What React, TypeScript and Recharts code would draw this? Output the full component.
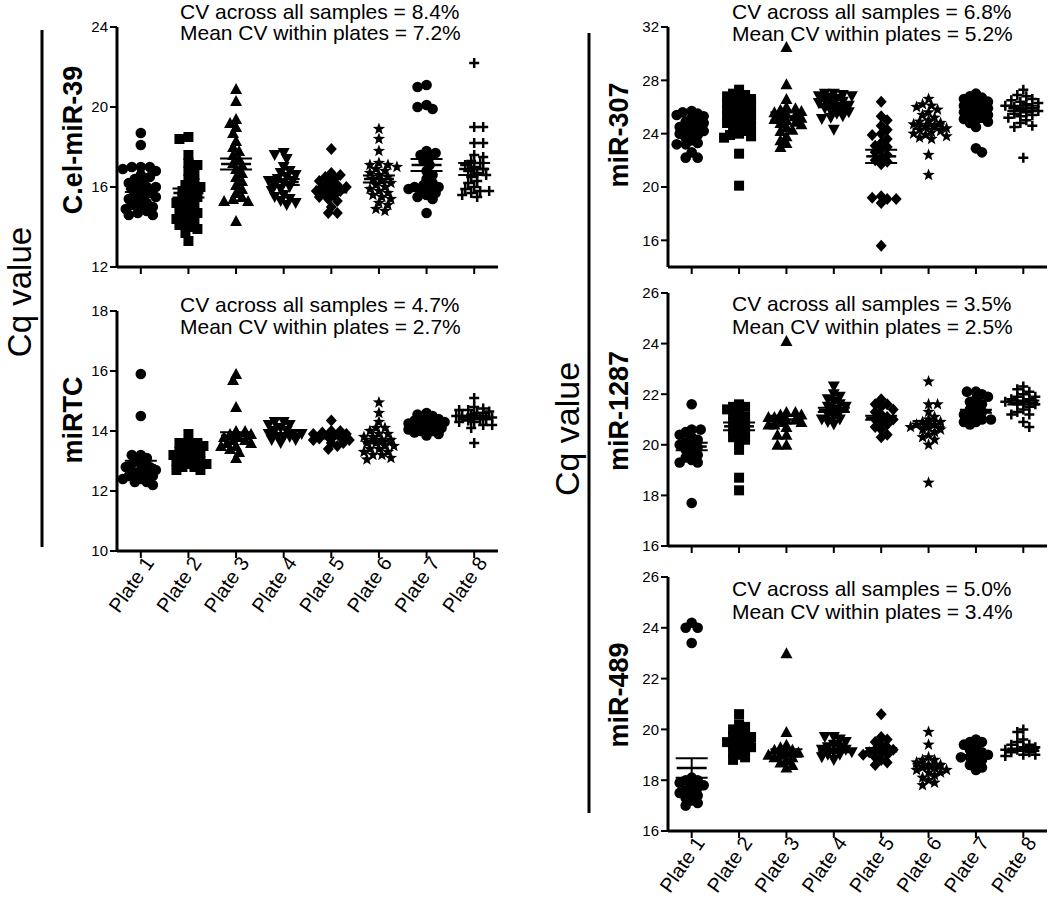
import React from "react";
import { ScatterChart, Scatter, XAxis, YAxis, ErrorBar } from "recharts";

const FONT = "'Liberation Sans', Arial, Helvetica, sans-serif";

const plateLabels = ["Plate 1", "Plate 2", "Plate 3", "Plate 4", "Plate 5", "Plate 6", "Plate 7", "Plate 8"];
const markerKinds = ["circle", "square", "triangle", "triangleDown", "diamond", "star", "circle", "plus"];

// C.el-miR-39 Cq values, one list per plate
const celMir39 = [
  [18.7, 18.1, 17.0, 17.0, 17.0, 16.9, 16.8, 16.6, 16.5, 16.4, 16.3, 16.2, 16.1, 16.0, 16.0, 15.9, 15.8, 15.7, 15.6, 15.5, 15.5, 15.4, 15.3, 15.2, 15.1, 15.0, 15.0, 14.9, 14.8, 14.7, 14.6, 14.6],
  [18.5, 18.4, 17.6, 17.2, 17.1, 16.8, 16.6, 16.4, 16.2, 16.1, 16.0, 15.9, 15.8, 15.6, 15.5, 15.4, 15.3, 15.2, 15.1, 15.0, 14.9, 14.8, 14.7, 14.6, 14.5, 14.4, 14.3, 14.2, 14.1, 14.0, 13.9, 13.7, 13.3],
  [20.9, 20.3, 19.4, 19.2, 19.0, 18.7, 18.3, 18.0, 17.8, 17.6, 17.4, 17.2, 17.1, 16.9, 16.7, 16.5, 16.3, 16.1, 15.9, 15.7, 15.5, 15.4, 15.3, 15.3, 14.3],
  [17.7, 17.6, 17.4, 17.0, 16.8, 16.7, 16.6, 16.5, 16.4, 16.3, 16.3, 16.2, 16.1, 16.0, 15.9, 15.8, 15.6, 15.5, 15.4, 15.3, 15.2, 15.1],
  [17.9, 16.7, 16.6, 16.5, 16.4, 16.3, 16.2, 16.1, 16.0, 16.0, 15.9, 15.8, 15.8, 15.7, 15.6, 15.5, 15.4, 15.3, 15.0, 14.7, 14.7],
  [18.9, 18.4, 17.8, 17.2, 17.1, 17.1, 17.0, 16.9, 16.8, 16.7, 16.6, 16.5, 16.4, 16.3, 16.2, 16.1, 16.0, 15.9, 15.8, 15.7, 15.6, 15.5, 15.4, 15.2, 15.1, 14.9, 14.8],
  [21.1, 21.0, 20.1, 20.0, 19.9, 17.8, 17.7, 17.6, 17.5, 17.3, 17.1, 16.8, 16.6, 16.4, 16.2, 16.1, 16.0, 16.0, 15.9, 15.9, 15.8, 15.7, 15.6, 15.5, 15.4, 14.7],
  [22.2, 19.0, 19.0, 18.2, 18.2, 17.6, 17.5, 17.3, 17.2, 17.1, 17.0, 16.9, 16.8, 16.7, 16.6, 16.5, 16.3, 16.2, 16.0, 15.9, 15.8, 15.8, 15.7, 15.6, 15.5],
];
const celMir39Means = [15.9, 15.7, 17.15, 16.25, 15.87, 16.4, 17.1, 16.9];
const celMir39Sems = [0.15, 0.22, 0.28, 0.15, 0.14, 0.18, 0.3, 0.3];

// miRTC
const miRTC = [
  [15.9, 14.5, 13.2, 13.2, 13.1, 13.0, 12.9, 12.9, 12.8, 12.8, 12.7, 12.7, 12.6, 12.6, 12.5, 12.5, 12.4, 12.4, 12.3, 12.3, 12.2],
  [13.9, 13.6, 13.6, 13.6, 13.5, 13.4, 13.4, 13.3, 13.3, 13.2, 13.2, 13.1, 13.1, 13.0, 13.0, 12.9, 12.9, 12.8, 12.8, 12.7, 12.7],
  [15.9, 15.7, 14.8, 14.0, 14.0, 13.9, 13.9, 13.8, 13.8, 13.7, 13.7, 13.6, 13.6, 13.5, 13.5, 13.4, 13.3, 13.1],
  [14.3, 14.3, 14.2, 14.2, 14.1, 14.0, 14.0, 13.9, 13.9, 13.9, 13.8, 13.8, 13.8, 13.7, 13.7, 13.6],
  [14.35, 14.0, 14.0, 13.95, 13.9, 13.9, 13.85, 13.8, 13.8, 13.75, 13.7, 13.7, 13.6, 13.6, 13.5, 13.4],
  [14.95, 14.6, 14.3, 14.1, 14.1, 14.0, 13.9, 13.9, 13.8, 13.8, 13.7, 13.7, 13.6, 13.6, 13.5, 13.5, 13.4, 13.4, 13.3, 13.3, 13.2, 13.2, 13.1, 13.05],
  [14.6, 14.55, 14.5, 14.4, 14.4, 14.35, 14.3, 14.3, 14.25, 14.2, 14.2, 14.15, 14.1, 14.1, 14.05, 14.0, 14.0, 13.95, 13.9, 13.85],
  [15.1, 14.8, 14.75, 14.7, 14.7, 14.65, 14.6, 14.6, 14.55, 14.5, 14.5, 14.45, 14.4, 14.4, 14.35, 14.3, 14.3, 14.2, 14.2, 14.1, 13.6],
];
const miRTCMeans = [12.86, 13.2, 13.84, 13.87, 13.8, 13.66, 14.2, 14.45];
const miRTCSems = [0.15, 0.06, 0.12, 0.05, 0.05, 0.08, 0.05, 0.06];

// miR-307
const miR307 = [
  [25.7, 25.6, 25.5, 25.4, 25.3, 25.2, 25.0, 24.9, 24.8, 24.6, 24.5, 24.4, 24.3, 24.2, 24.1, 24.0, 23.9, 23.7, 23.5, 23.3, 23.2, 23.2, 22.6, 22.2, 22.2],
  [27.3, 27.0, 26.9, 26.8, 26.7, 26.6, 26.5, 26.4, 26.3, 26.2, 26.1, 26.0, 25.9, 25.8, 25.7, 25.6, 25.5, 25.4, 25.3, 25.2, 25.1, 25.0, 24.9, 24.8, 24.6, 24.5, 24.4, 24.2, 24.0, 23.9, 23.8, 23.7, 22.5, 20.1],
  [30.5, 27.7, 26.6, 26.0, 25.9, 25.8, 25.7, 25.6, 25.5, 25.4, 25.3, 25.2, 25.1, 25.0, 24.9, 24.8, 24.7, 24.5, 24.3, 24.2, 23.8, 23.5, 23.3, 23.0],
  [27.0, 27.0, 26.9, 26.8, 26.8, 26.7, 26.6, 26.5, 26.4, 26.3, 26.2, 26.1, 26.0, 25.9, 25.8, 25.7, 25.6, 25.5, 25.3, 25.2, 25.1, 24.3],
  [26.4, 25.3, 25.0, 24.6, 24.3, 24.0, 23.9, 23.6, 23.3, 23.1, 23.0, 22.8, 22.6, 22.4, 22.2, 22.0, 21.9, 21.7, 19.3, 19.2, 19.1, 19.1, 18.8, 15.6],
  [26.6, 26.2, 26.1, 26.0, 25.8, 25.6, 25.4, 25.2, 25.0, 24.9, 24.8, 24.7, 24.6, 24.5, 24.4, 24.3, 24.2, 24.1, 24.0, 23.9, 23.8, 23.7, 23.6, 22.4, 20.9],
  [27.0, 26.8, 26.7, 26.6, 26.5, 26.4, 26.3, 26.2, 26.1, 26.0, 25.9, 25.8, 25.7, 25.6, 25.5, 25.4, 25.3, 25.2, 25.1, 25.0, 24.9, 24.8, 24.5, 22.9, 22.6],
  [27.3, 26.9, 26.8, 26.6, 26.5, 26.4, 26.3, 26.2, 26.1, 26.0, 25.9, 25.8, 25.7, 25.6, 25.5, 25.4, 25.3, 25.2, 25.0, 24.8, 24.6, 24.5, 22.2],
];
const miR307Means = [24.4, 25.2, 25.3, 26.1, 22.3, 24.55, 25.7, 25.9];
const miR307Sems = [0.2, 0.25, 0.3, 0.12, 0.5, 0.2, 0.2, 0.2];

// miR-1287
const miR1287 = [
  [21.6, 20.6, 20.6, 20.5, 20.4, 20.3, 20.2, 20.1, 20.0, 20.0, 19.9, 19.8, 19.7, 19.6, 19.5, 19.4, 19.3, 19.3, 17.7],
  [21.6, 21.5, 21.5, 21.4, 21.3, 21.2, 21.1, 21.0, 20.9, 20.8, 20.7, 20.6, 20.5, 20.4, 20.3, 20.2, 20.1, 19.8, 18.7, 18.2],
  [24.1, 21.3, 21.3, 21.2, 21.2, 21.1, 21.1, 21.0, 21.0, 20.9, 20.9, 20.8, 20.8, 20.7, 20.4, 20.4, 20.0, 20.0],
  [22.3, 22.0, 21.9, 21.8, 21.7, 21.6, 21.5, 21.5, 21.4, 21.3, 21.2, 21.1, 21.0, 21.0, 20.9, 20.8],
  [21.8, 21.6, 21.6, 21.5, 21.4, 21.3, 21.2, 21.1, 21.0, 21.0, 20.9, 20.8, 20.7, 20.6, 20.4, 20.3],
  [22.5, 21.6, 21.6, 21.3, 21.1, 21.0, 20.9, 20.9, 20.8, 20.8, 20.7, 20.7, 20.6, 20.6, 20.5, 20.4, 20.3, 20.2, 20.0, 18.5],
  [22.1, 22.1, 22.0, 21.9, 21.8, 21.7, 21.6, 21.5, 21.4, 21.3, 21.2, 21.2, 21.1, 21.0, 21.0, 20.9, 20.9, 20.8],
  [22.3, 22.2, 22.1, 22.0, 21.9, 21.9, 21.8, 21.8, 21.7, 21.7, 21.6, 21.6, 21.5, 21.4, 21.3, 21.2, 21.2, 20.9, 20.7],
];
const miR1287Means = [19.93, 20.73, 21.0, 21.38, 21.07, 20.82, 21.33, 21.67];
const miR1287Sems = [0.15, 0.15, 0.15, 0.08, 0.08, 0.12, 0.06, 0.08];

// miR-489
const miR489 = [
  [24.2, 24.0, 24.0, 23.4, 18.1, 18.0, 18.0, 17.9, 17.8, 17.8, 17.7, 17.6, 17.5, 17.5, 17.4, 17.3, 17.2, 17.1, 17.0],
  [20.6, 20.2, 20.1, 20.0, 19.9, 19.8, 19.7, 19.7, 19.6, 19.5, 19.5, 19.4, 19.3, 19.3, 19.2, 19.1, 19.0, 18.9, 18.8],
  [23.0, 19.9, 19.4, 19.3, 19.2, 19.2, 19.1, 19.1, 19.0, 19.0, 18.9, 18.9, 18.8, 18.7, 18.6, 18.5],
  [19.7, 19.7, 19.6, 19.5, 19.4, 19.3, 19.3, 19.2, 19.2, 19.1, 19.1, 19.0, 19.0, 18.9, 18.8],
  [20.6, 19.7, 19.6, 19.5, 19.4, 19.3, 19.2, 19.2, 19.1, 19.1, 19.0, 19.0, 18.9, 18.8, 18.7, 18.6],
  [19.9, 19.4, 18.9, 18.8, 18.8, 18.7, 18.6, 18.6, 18.5, 18.5, 18.4, 18.4, 18.3, 18.3, 18.2, 18.1, 18.0, 17.9, 17.8],
  [19.6, 19.5, 19.5, 19.4, 19.3, 19.2, 19.1, 19.0, 19.0, 18.9, 18.9, 18.8, 18.7, 18.6, 18.5, 18.4],
  [20.0, 19.9, 19.6, 19.5, 19.4, 19.4, 19.3, 19.3, 19.2, 19.2, 19.1, 19.1, 19.0, 19.0, 18.95],
];
const miR489Means = [18.48, 19.5, 19.07, 19.15, 19.2, 18.55, 18.93, 19.2];
const miR489Sems = [0.38, 0.08, 0.15, 0.05, 0.07, 0.1, 0.06, 0.05];

const Y_AXIS_W = 50;
const M_TOP = 10;
const M_RIGHT = 4;

// spread points of one plate sideways (kept within about +-19 px of the tick)
function swarm(values: number[], plate: number, pxPerY: number, pxPerX: number) {
  const placed: { dx: number; py: number }[] = [];
  const out: { x: number; y: number }[] = [];
  const sorted = [...values].sort((a, b) => b - a);
  const step = 3;
  const minDist = 6.5;
  const maxOff = 19;
  sorted.forEach((v, i) => {
    const py = v * pxPerY;
    const dir = i % 2 === 0 ? 1 : -1;
    let best = 0;
    let bestGap = -1;
    for (let k = 0; ; k++) {
      const cand = k === 0 ? 0 : (k % 2 === 1 ? dir : -dir) * Math.ceil(k / 2) * step;
      if (Math.abs(cand) > maxOff) break;
      const gap = placed.length ? Math.min(...placed.map((p) => Math.hypot(p.dx - cand, p.py - py))) : 99;
      if (gap >= minDist) {
        best = cand;
        bestGap = gap;
        break;
      }
      if (gap > bestGap) {
        bestGap = gap;
        best = cand;
      }
    }
    placed.push({ dx: best, py });
    out.push({ x: plate + best / pxPerX, y: v });
  });
  return out;
}

function starPath(cx: number, cy: number, R: number, r: number) {
  let d = "";
  for (let i = 0; i < 10; i++) {
    const rad = i % 2 === 0 ? R : r;
    const a = -Math.PI / 2 + (i * Math.PI) / 5;
    d += (i === 0 ? "M" : "L") + (cx + rad * Math.cos(a)).toFixed(2) + "," + (cy + rad * Math.sin(a)).toFixed(2);
  }
  return d + "Z";
}

function Marker({ cx, cy, kind }: { cx: number; cy: number; kind: string }) {
  if (cx == null || cy == null) return null;
  switch (kind) {
    case "circle":
      return <circle cx={cx} cy={cy} r={5.3} fill="#000" />;
    case "square":
      return <rect x={cx - 5} y={cy - 5} width={10} height={10} fill="#000" />;
    case "triangle":
      return <path d={`M${cx},${cy - 6}L${cx + 6},${cy + 5}L${cx - 6},${cy + 5}Z`} fill="#000" />;
    case "triangleDown":
      return <path d={`M${cx},${cy + 6}L${cx + 6},${cy - 5}L${cx - 6},${cy - 5}Z`} fill="#000" />;
    case "diamond":
      return <path d={`M${cx},${cy - 6}L${cx + 5.5},${cy}L${cx},${cy + 6}L${cx - 5.5},${cy}Z`} fill="#000" />;
    case "star":
      return <path d={starPath(cx, cy, 6.5, 2.7)} fill="#000" />;
    default:
      return (
        <path
          d={`M${cx - 5},${cy}H${cx + 5}M${cx},${cy - 5}V${cy + 5}`}
          stroke="#000"
          strokeWidth={2.5}
        />
      );
  }
}

function MeanLine(props: any) {
  const { cx, cy } = props;
  if (cx == null || cy == null) return null;
  return <line x1={cx - 15} x2={cx + 15} y1={cy} y2={cy} stroke="#000" strokeWidth={2.5} />;
}

function PlateTick(props: any) {
  const { x, y, payload } = props;
  const ax = x + 14;
  const ay = y + 3;
  return (
    <text
      x={ax}
      y={ay}
      transform={`rotate(-55 ${ax} ${ay})`}
      textAnchor="end"
      fontSize={20}
      fontFamily={FONT}
      fill="#000"
    >
      {plateLabels[payload.value - 1]}
    </text>
  );
}

const NoTick = () => <g />;

type PanelProps = {
  values: number[][];
  means: number[];
  sems: number[];
  left: number;
  top: number;
  width: number;
  height: number;
  domain: [number, number];
  ticks: number[];
  labels: boolean;
};

function Panel(p: PanelProps) {
  const pxPerY = p.height / (p.domain[1] - p.domain[0]);
  const pxPerX = p.width / 8;
  const xAxisH = p.labels ? 110 : 12;
  const chartW = Y_AXIS_W + p.width + M_RIGHT;
  const chartH = M_TOP + p.height + xAxisH;
  const meanData = p.means.map((m, i) => ({ x: i + 1, y: m, sem: p.sems[i] }));
  return (
    <div style={{ position: "absolute", left: p.left - Y_AXIS_W, top: p.top - M_TOP }}>
      <ScatterChart width={chartW} height={chartH} margin={{ top: M_TOP, right: M_RIGHT, left: 0, bottom: 0 }}>
        <XAxis
          type="number"
          dataKey="x"
          domain={[0.5, 8.5]}
          ticks={[1, 2, 3, 4, 5, 6, 7, 8]}
          interval={0}
          allowDataOverflow
          height={xAxisH}
          axisLine={{ stroke: "#000", strokeWidth: 3 }}
          tickLine={{ stroke: "#000", strokeWidth: 2 }}
          tickSize={7}
          tick={p.labels ? <PlateTick /> : <NoTick />}
        />
        <YAxis
          type="number"
          dataKey="y"
          domain={p.domain}
          ticks={p.ticks}
          interval={0}
          allowDataOverflow
          width={Y_AXIS_W}
          axisLine={{ stroke: "#000", strokeWidth: 3 }}
          tickLine={{ stroke: "#000", strokeWidth: 2 }}
          tickSize={7}
          tick={{ fill: "#000", fontSize: 15, fontFamily: FONT }}
        />
        {p.values.map((vals, i) => (
          <Scatter
            key={i}
            data={swarm(vals, i + 1, pxPerY, pxPerX)}
            isAnimationActive={false}
            shape={(sp: any) => <Marker cx={sp.cx} cy={sp.cy} kind={markerKinds[i]} />}
          />
        ))}
        <Scatter data={meanData} isAnimationActive={false} shape={(sp: any) => <MeanLine {...sp} />}>
          <ErrorBar dataKey="sem" direction="y" width={16} stroke="#000" strokeWidth={2} />
        </Scatter>
      </ScatterChart>
    </div>
  );
}

const cvText = (x: number, y1: number, y2: number, a: string, b: string) => (
  <g fontFamily={FONT} fontSize={21} fill="#000">
    <text x={x} y={y1}>{`CV across all samples = ${a}`}</text>
    <text x={x} y={y2}>{`Mean CV within plates = ${b}`}</text>
  </g>
);

const vText = (x: number, y: number, s: string, size: number, bold: boolean) => (
  <text
    x={x}
    y={y}
    transform={`rotate(-90 ${x} ${y})`}
    textAnchor="middle"
    fontFamily={FONT}
    fontSize={size}
    fontWeight={bold ? "bold" : "normal"}
    fill="#000"
  >
    {s}
  </text>
);

export default function App() {
  return (
    <div style={{ position: "absolute", left: 0, top: 0, width: 1050, height: 901, overflow: "hidden", background: "#fff" }}>
      <Panel values={celMir39} means={celMir39Means} sems={celMir39Sems} left={117} top={27} width={381} height={240} domain={[12, 24]} ticks={[12, 16, 20, 24]} labels={false} />
      <Panel values={miRTC} means={miRTCMeans} sems={miRTCSems} left={117} top={311} width={381} height={240} domain={[10, 18]} ticks={[10, 12, 14, 16, 18]} labels />
      <Panel values={miR307} means={miR307Means} sems={miR307Sems} left={668} top={27} width={379} height={240} domain={[14, 32]} ticks={[16, 20, 24, 28, 32]} labels={false} />
      <Panel values={miR1287} means={miR1287Means} sems={miR1287Sems} left={668} top={293} width={379} height={253} domain={[16, 26]} ticks={[16, 18, 20, 22, 24, 26]} labels={false} />
      <Panel values={miR489} means={miR489Means} sems={miR489Sems} left={668} top={577} width={379} height={254} domain={[16, 26]} ticks={[16, 18, 20, 22, 24, 26]} labels />
      <svg width={1050} height={901} style={{ position: "absolute", left: 0, top: 0, pointerEvents: "none" }}>
        <line x1={42} x2={42} y1={30} y2={547} stroke="#000" strokeWidth={3} />
        <line x1={589} x2={589} y1={33} y2={813} stroke="#000" strokeWidth={3} />
        {vText(31, 292, "Cq value", 33, false)}
        {vText(579, 429, "Cq value", 34, false)}
        {vText(82, 140, "C.el-miR-39", 27, true)}
        {vText(82, 420, "miRTC", 27, true)}
        {vText(628, 135, "miR-307", 27, true)}
        {vText(628, 411, "miR-1287", 27, true)}
        {vText(628, 695, "miR-489", 27, true)}
        {cvText(180, 19, 40, "8.4%", "7.2%")}
        {cvText(180, 312, 334, "4.7%", "2.7%")}
        {cvText(732, 19, 41, "6.8%", "5.2%")}
        {cvText(732, 311, 334, "3.5%", "2.5%")}
        {cvText(732, 596, 619, "5.0%", "3.4%")}
      </svg>
    </div>
  );
}
